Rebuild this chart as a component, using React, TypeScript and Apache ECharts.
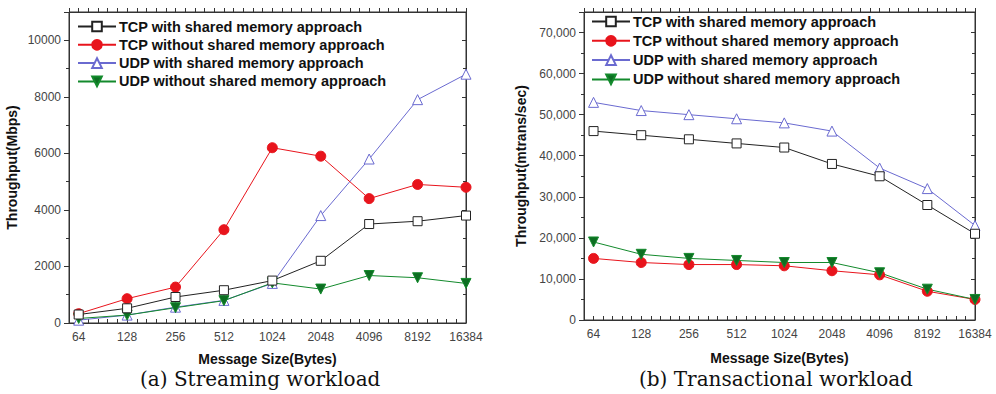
import React, { useEffect, useRef } from "react";
import * as echarts from "echarts";

const sizes = ["64", "128", "256", "512", "1024", "2048", "4096", "8192", "16384"];
const seriesNames = [
  "TCP with shared memory approach",
  "TCP without shared memory approach",
  "UDP with shared memory approach",
  "UDP without shared memory approach",
];
// (a) Streaming workload, Mbps
const streamTcpShared = [300, 520, 920, 1160, 1500, 2200, 3500, 3600, 3800];
const streamTcpNoShared = [330, 860, 1270, 3300, 6200, 5900, 4400, 4900, 4800];
const streamUdpShared = [100, 280, 560, 800, 1400, 3800, 5800, 7900, 8800];
const streamUdpNoShared = [160, 280, 540, 790, 1420, 1200, 1680, 1600, 1400];
// (b) Transactional workload, mtrans/sec
const transTcpShared = [46000, 45000, 44000, 43000, 42000, 38000, 35000, 28000, 21000];
const transTcpNoShared = [15000, 14000, 13500, 13500, 13200, 12000, 11000, 7000, 5000];
const transUdpShared = [53000, 51000, 50000, 49000, 48000, 46000, 37000, 32000, 23000];
const transUdpNoShared = [19000, 16000, 15000, 14500, 14000, 14000, 11500, 7500, 5000];

const captions = ["(a) Streaming workload", "(b) Transactional workload"];
const yNames = ["Throughput(Mbps)", "Throughput(mtrans/sec)"];
const xName = "Message Size(Bytes)";

const FONT = "'Liberation Sans', Arial, sans-serif";

const styles = [
  { color: "#222222", symbol: "rect", fill: "#ffffff", size: 9 },
  { color: "#e8141c", symbol: "circle", fill: "#e8141c", size: 10 },
  { color: "#6a6ad0", symbol: "triangle", fill: "#ffffff", size: 10 },
  { color: "#138a2c", symbol: "path://M0,0 L10,0 L5,9 Z", fill: "#0d6e22", size: 10 },
];

function xLabel(v: number): string {
  const r = Math.round(v * 5) / 5;
  const n = Math.round(r);
  if (Math.abs(r - n) < 1e-6 && n >= 0 && n < sizes.length) return sizes[n];
  return "";
}

export default function App() {
  const ref = useRef<HTMLDivElement>(null);
  useEffect(() => {
    if (!ref.current) return;
    const chart = echarts.init(ref.current, undefined, { renderer: "svg" });
    const grids = [
      { left: 69, top: 12, width: 397, height: 311 },
      { left: 584, top: 12, width: 391, height: 308 },
    ];
    const yMax = [11000, 75000];
    const yInt = [2000, 10000];
    const yNameGap = [50, 56];
    const xAxes: any[] = [];
    const yAxes: any[] = [];
    grids.forEach((g, gi) => {
      const baseX = {
        type: "value",
        gridIndex: gi,
        min: -0.2,
        max: 8,
        interval: 0.2,
        splitLine: { show: false },
        axisLine: { show: true, onZero: false, lineStyle: { color: "#333", width: 1 } },
        axisTick: { show: true, inside: true, interval: 0, length: 4, lineStyle: { color: "#333" } },
      };
      xAxes.push({
        ...baseX,
        position: "bottom",
        name: xName,
        nameLocation: "middle",
        nameGap: gi === 0 ? 29 : 31,
        nameTextStyle: { fontFamily: FONT, fontWeight: "bold", fontSize: 14, color: "#111" },
        axisLabel: {
          show: true,
          interval: 0,
          formatter: xLabel,
          fontFamily: FONT,
          fontSize: 12,
          color: "#444",
          margin: 8,
          showMinLabel: true,
          showMaxLabel: true,
        },
      });
      xAxes.push({
        ...baseX,
        position: "top",
        axisTick: { show: true, inside: false, interval: 0, length: 4, lineStyle: { color: "#333" } },
        axisLabel: { show: false },
      });
      const baseY = {
        type: "value",
        gridIndex: gi,
        min: 0,
        max: yMax[gi],
        interval: yInt[gi],
        splitLine: { show: false },
        axisLine: { show: true, onZero: false, lineStyle: { color: "#333", width: 1 } },
      };
      yAxes.push({
        ...baseY,
        position: "left",
        name: yNames[gi],
        nameLocation: "middle",
        nameGap: yNameGap[gi],
        nameTextStyle: { fontFamily: FONT, fontWeight: "bold", fontSize: 14, color: "#111" },
        axisTick: { show: true, inside: false, length: 5, lineStyle: { color: "#333" } },
        minorTick: { show: true, splitNumber: 2, length: 3, lineStyle: { color: "#333" } },
        axisLabel: {
          show: true,
          showMaxLabel: false,
          fontFamily: FONT,
          fontSize: 12,
          color: "#444",
          margin: 8,
          formatter: (v: number) =>
            gi === 0 ? String(v) : v === 0 ? "0" : v.toLocaleString("en-US"),
        },
      });
      yAxes.push({
        ...baseY,
        position: "right",
        axisTick: { show: true, inside: true, length: 4, lineStyle: { color: "#333" } },
        minorTick: { show: true, splitNumber: 2, length: 3, lineStyle: { color: "#333" } },
        axisLabel: { show: false },
      });
    });

    const data = [
      [streamTcpShared, streamTcpNoShared, streamUdpShared, streamUdpNoShared],
      [transTcpShared, transTcpNoShared, transUdpShared, transUdpNoShared],
    ];
    const series: any[] = [];
    const order = [2, 1, 3, 0];
    [0, 1].forEach((gi) => {
      order.forEach((si) => {
        const st = styles[si];
        series.push({
          type: "line",
          name: seriesNames[si],
          xAxisIndex: gi * 2,
          yAxisIndex: gi * 2,
          data: data[gi][si].map((v, i) => [i, v]),
          symbol: st.symbol,
          symbolSize: st.size,
          showAllSymbol: true,
          lineStyle: { color: st.color, width: 1 },
          itemStyle: { color: st.fill, borderColor: st.color, borderWidth: 1 },
          emphasis: { disabled: true },
          z: 3,
        });
      });
    });

    const legendBase = {
      orient: "vertical",
      itemWidth: 38,
      itemHeight: 12,
      data: seriesNames,
      textStyle: { fontFamily: FONT, fontWeight: "bold", fontSize: 14.5, color: "#111", padding: [0, 0, 0, -2] },
      selectedMode: false,
      backgroundColor: "transparent",
      padding: 0,
    };

    chart.setOption({
      animation: false,
      backgroundColor: "#ffffff",
      grid: grids.map((g) => ({ ...g, containLabel: false, show: true, borderColor: "#333", borderWidth: 1, backgroundColor: "transparent" })),
      xAxis: xAxes,
      yAxis: yAxes,
      legend: [
        { ...legendBase, left: 77, top: 19, itemGap: 3.3 },
        { ...legendBase, left: 591, top: 14, itemGap: 4.3 },
      ],
      series,
      graphic: [
        {
          type: "text",
          left: 140,
          top: 369,
          style: {
            text: captions[0],
            font: "20px 'DejaVu Serif', serif",
            fill: "#111",
          },
        },
        {
          type: "text",
          left: 639,
          top: 369,
          style: {
            text: captions[1],
            font: "20px 'DejaVu Serif', serif",
            fill: "#111",
          },
        },
      ],
    });
    return () => chart.dispose();
  }, []);
  return (
    <div
      ref={ref}
      style={{ position: "fixed", left: 0, top: 0, width: 996, height: 394, background: "#fff" }}
    />
  );
}
